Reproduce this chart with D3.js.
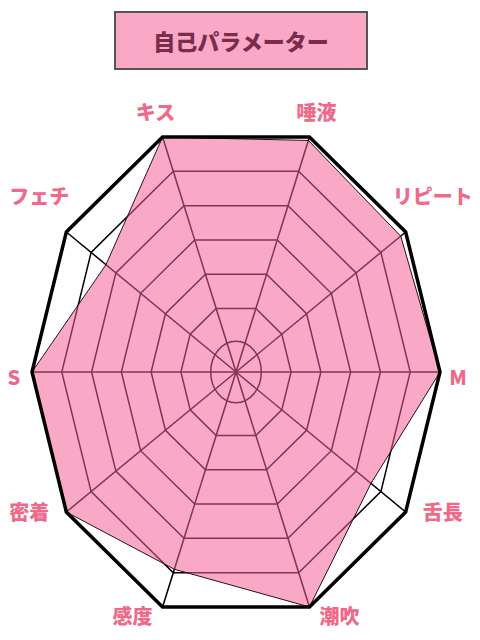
<!DOCTYPE html>
<html>
<head>
<meta charset="utf-8">
<script src="https://cdn.jsdelivr.net/npm/d3@7"></script>
<style>
    body { margin: 0; background: #fff; }
    svg { display: block; }
    text { font-family: "Noto Sans CJK JP", "Noto Sans", sans-serif; font-weight: 900; }
</style>
</head>
<body>
<svg id="chart" width="480" height="640"></svg>
<script>
/*************************************************************************/

const title = '自己パラメーター';
const categories = ['キス', '唾液', 'リピート', 'M', '舌長', '潮吹', '感度', '密着', 'S', 'フェチ'];
const values = [7, 6.9, 6.8, 7, 5.6, 7, 5.9, 7, 7, 5.4];
const levels = [1, 2, 3, 4, 5, 6, 7];

/*************************************************************************/

const cx = 236, cy = 372, rx = 204, ry = 248;

const radius = d3.scaleLinear().domain([0.15, 7]).range([0, 1]);
const angle = d3.scaleLinear().domain([0, categories.length]).range([108, 108 - 360]);

function spow(v, p){ return Math.sign(v) * Math.pow(Math.abs(v), p); }

// the frame is a squashed decagon, wider at top and bottom than a plain ellipse
function point(i, v){
    const t = angle(i) * Math.PI / 180;
    const f = radius(v);
    return [cx + rx * f * spow(Math.cos(t), 0.87), cy - ry * f * spow(Math.sin(t), 1.076)];
}

const labelNudge = { top: [7, -24], upper: [27, -34.5], mid: [18, 6], lower: [37, 0.5], bottom: [30, 10.5] };

function labelPos(i){
    const t = angle(i) * Math.PI / 180;
    const s = Math.sin(t), side = Math.cos(t) >= 0 ? 1 : -1;
    const row = s > 0.8 ? 'top' : s > 0.3 ? 'upper' : s > -0.3 ? 'mid' : s > -0.8 ? 'lower' : 'bottom';
    const p = point(i, 7);
    return [p[0] + side * labelNudge[row][0], p[1] + labelNudge[row][1]];
}

/*************************************************************************/

const svg = d3.select('#chart');
const idx = d3.range(categories.length);
const line = d3.line().curve(d3.curveLinearClosed);

// title box
svg.append('rect')
    .attr('x', 115).attr('y', 12).attr('width', 252).attr('height', 57)
    .attr('fill', '#f9a9c6').attr('stroke', '#555').attr('stroke-width', 2);

svg.append('text')
    .attr('x', 241).attr('y', 42).attr('dy', '0.35em')
    .attr('text-anchor', 'middle')
    .attr('font-size', 22)
    .attr('fill', '#7b2b4c')
    .text(title);

// grid: innermost ring is round, the rest follow the frame
const grid = svg.append('g').attr('stroke', '#000').attr('stroke-width', 1.5).attr('fill', 'none');

grid.append('ellipse')
    .attr('cx', cx).attr('cy', cy)
    .attr('rx', rx * radius(levels[0])).attr('ry', ry * radius(levels[0]));

grid.selectAll('path.ring')
    .data(levels.slice(1, -1))
    .enter().append('path')
    .attr('class', 'ring')
    .attr('d', lv => line(idx.map(i => point(i, lv))));

grid.selectAll('line.axis')
    .data(idx)
    .enter().append('line')
    .attr('class', 'axis')
    .attr('x1', cx).attr('y1', cy)
    .attr('x2', i => point(i, d3.max(levels))[0])
    .attr('y2', i => point(i, d3.max(levels))[1]);

// data area, see-through so the grid shows dark through it
svg.append('path')
    .attr('d', line(values.map((v, i) => point(i, v))))
    .attr('fill', '#f35e96')
    .attr('fill-opacity', 0.54)
    .attr('stroke', '#2a1018')
    .attr('stroke-width', 1);

// outer frame
svg.append('path')
    .attr('d', line(idx.map(i => point(i, d3.max(levels)))))
    .attr('fill', 'none')
    .attr('stroke', '#000')
    .attr('stroke-width', 3.5)
    .attr('stroke-linejoin', 'miter');

// category labels
svg.selectAll('text.label')
    .data(categories)
    .enter().append('text')
    .attr('class', 'label')
    .attr('x', (d, i) => labelPos(i)[0])
    .attr('y', (d, i) => labelPos(i)[1])
    .attr('dy', '0.35em')
    .attr('text-anchor', 'middle')
    .attr('font-size', 20)
    .attr('fill', '#ef6a8a')
    .text(d => d);

/*************************************************************************/
</script>
</body>
</html>
